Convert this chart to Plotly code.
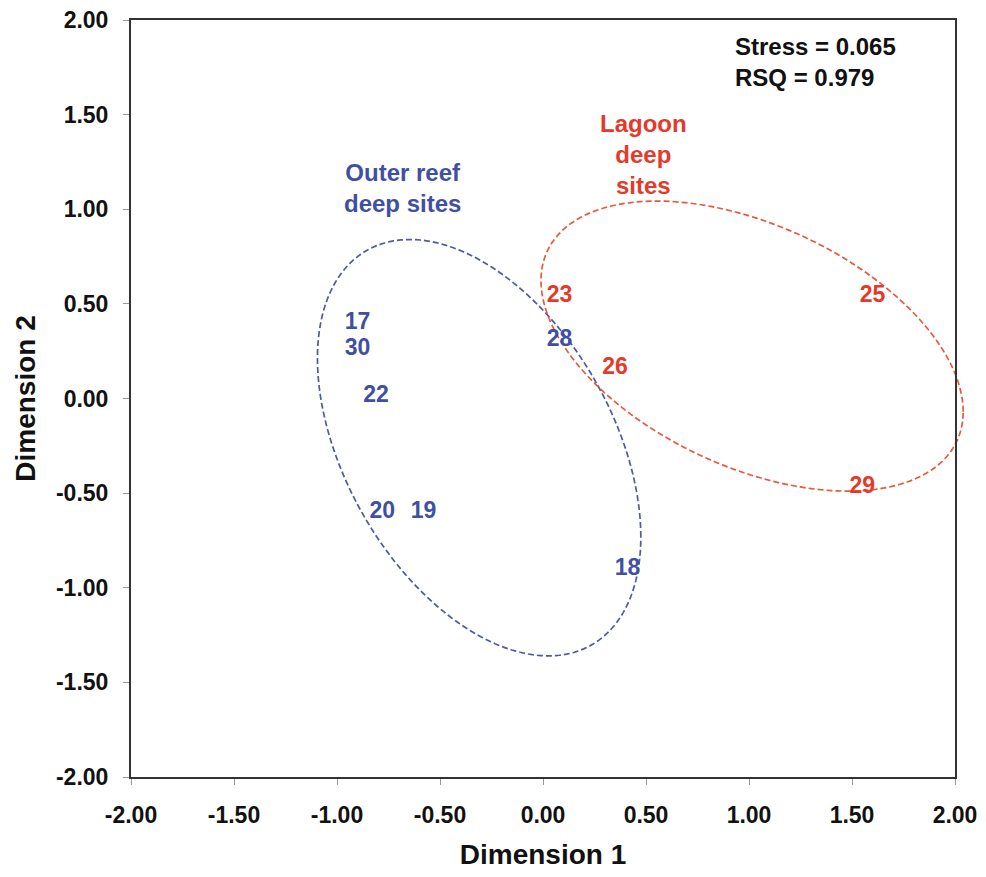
import numpy as np
import plotly.graph_objects as go

# --- data ---
outer_labels = ["17", "30", "22", "28", "20", "19", "18"]
outer_x = [-0.90, -0.90, -0.81, 0.08, -0.78, -0.58, 0.41]
outer_y = [0.40, 0.26, 0.01, 0.31, -0.60, -0.60, -0.90]

lagoon_labels = ["23", "26", "25", "29"]
lagoon_x = [0.08, 0.35, 1.60, 1.55]
lagoon_y = [0.54, 0.16, 0.54, -0.47]

tick_vals = [-2.0, -1.5, -1.0, -0.5, 0.0, 0.5, 1.0, 1.5, 2.0]
tick_text = ["-2.00", "-1.50", "-1.00", "-0.50", "0.00", "0.50", "1.00", "1.50", "2.00"]

# ellipse geometry: centre and covariance-like shape matrix
outer_center = [-0.31, -0.26]
outer_shape = [[0.616, -0.37], [-0.37, 1.21]]
lagoon_center = [1.015, 0.277]
lagoon_shape = [[1.05, -0.355], [-0.355, 0.587]]

X_RANGE = [-2, 2]
Y_RANGE = [-2, 2]

BLUE = "#3f4fa3"
RED = "#e53a2a"
BLUE_LINE = "#4d5aa6"
RED_LINE = "#e85a3c"
FONT = "Liberation Sans, Arial, sans-serif"


def ellipse_path(center, shape, n=240):
    """Ellipse outline as an SVG path in paper coordinates (so it is not clipped)."""
    L = np.linalg.cholesky(np.array(shape))
    t = np.linspace(0, 2 * np.pi, n)
    pts = L @ np.vstack([np.cos(t), np.sin(t)])
    xs = pts[0] + center[0]
    ys = pts[1] + center[1]
    px = (xs - X_RANGE[0]) / (X_RANGE[1] - X_RANGE[0])
    py = (ys - Y_RANGE[0]) / (Y_RANGE[1] - Y_RANGE[0])
    parts = [f"{'M' if i == 0 else 'L'} {a:.5f},{b:.5f}" for i, (a, b) in enumerate(zip(px, py))]
    return " ".join(parts) + " Z"


fig = go.Figure()

fig.add_shape(type="path", xref="paper", yref="paper",
              path=ellipse_path(outer_center, outer_shape),
              line=dict(color=BLUE_LINE, width=1.7, dash="6px,3px"), layer="below")
fig.add_shape(type="path", xref="paper", yref="paper",
              path=ellipse_path(lagoon_center, lagoon_shape),
              line=dict(color=RED_LINE, width=1.7, dash="6px,3px"), layer="below")

fig.add_trace(go.Scatter(x=outer_x, y=outer_y, mode="text", text=outer_labels,
                         textfont=dict(family=FONT, size=23, color=BLUE, weight="bold"),
                         showlegend=False))
fig.add_trace(go.Scatter(x=lagoon_x, y=lagoon_y, mode="text", text=lagoon_labels,
                         textfont=dict(family=FONT, size=23, color=RED, weight="bold"),
                         showlegend=False))

fig.add_annotation(x=-0.68, y=1.11, text="Outer reef<br>deep sites", showarrow=False,
                   font=dict(family=FONT, size=24, color=BLUE, weight="bold"), align="center")
fig.add_annotation(x=0.49, y=1.29, text="Lagoon<br>deep<br>sites", showarrow=False,
                   font=dict(family=FONT, size=24, color=RED, weight="bold"), align="center")
fig.add_annotation(x=0.92, y=1.94, xanchor="left", yanchor="top",
                   text="Stress = 0.065<br>RSQ = 0.979", showarrow=False,
                   font=dict(family=FONT, size=24, color="#111111", weight="bold"), align="left")

axis_common = dict(tickvals=tick_vals, ticktext=tick_text, automargin=False,
                   showgrid=False, zeroline=False, showline=True, mirror=True,
                   linecolor="#333333", linewidth=2, ticks="outside", ticklen=6,
                   tickcolor="#999999", tickwidth=1, ticklabelstandoff=10,
                   tickfont=dict(family=FONT, size=23, color="#111111", weight="bold"))

fig.update_xaxes(**axis_common, range=X_RANGE,
                 title=dict(text="Dimension 1", standoff=18,
                            font=dict(family=FONT, size=28, color="#111111", weight="bold")))
fig.update_yaxes(**axis_common, range=Y_RANGE,
                 title=dict(text="Dimension 2", standoff=12,
                            font=dict(family=FONT, size=28, color="#111111", weight="bold")))

fig.update_layout(width=986, height=877,
                  margin=dict(l=131, r=31, t=20, b=100),
                  paper_bgcolor="white", plot_bgcolor="white")

fig.write_html("out.html")
